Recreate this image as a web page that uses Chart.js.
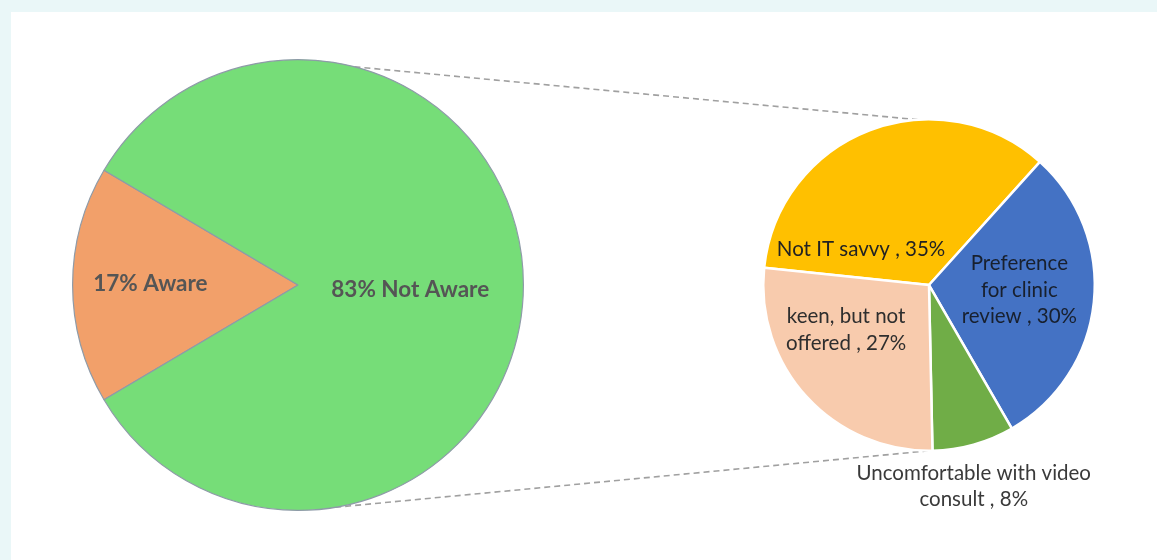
<!DOCTYPE html>
<html>
<head>
<meta charset="utf-8">
<script src="https://cdn.jsdelivr.net/npm/chart.js@4.4.1/dist/chart.umd.min.js"></script>
<style>
  html, body { margin: 0; padding: 0; background: #EAF7F8; }
  #wrap { position: relative; width: 1157px; height: 560px; background: #EAF7F8; overflow: hidden; }
  #panel { position: absolute; left: 11px; top: 12px; right: 0; bottom: 0; background: #ffffff; }
  canvas { position: absolute; }
  #c1 { left: 68px; top: 55px; }
  #c2 { left: 740px; top: 100px; }
  #ov { left: 0; top: 0; pointer-events: none; }
</style>
</head>
<body>
<div id="wrap">
  <div id="panel"></div>
  <canvas id="ov" width="1157" height="560"></canvas>
  <canvas id="c1" width="460" height="460"></canvas>
  <canvas id="c2" width="380" height="440"></canvas>
</div>
<script>
// ---- data ----
const mainCategories = ['Aware', 'Not Aware'];
const mainValues = [17, 83];
const mainLabelLines = [['17% Aware'], ['83% Not Aware']];

const subCategories = ['Not IT savvy', 'Preference for clinic review', 'Uncomfortable with video consult', 'keen, but not offered'];
const subValues = [35, 30, 8, 27];
const subLabelLines = [
  ['Not IT savvy , 35%'],
  ['Preference', 'for clinic', 'review , 30%'],
  ['Uncomfortable with video', 'consult , 8%'],
  ['keen, but not', 'offered , 27%']
];

// ---- styles ----
const mainColors = ['#F2A06A', '#76DD78'];
const subColors = ['#FFC000', '#4472C4', '#70AD47', '#F8CBAD'];
const FONT = 'Lato, "Open Sans", sans-serif';

// label placement as fraction of the radius from the pie centre (style only)
const mainLabelPos = [[-0.655, -0.005], [0.498, 0.02]];
const mainLabelColors = ['#555555', '#555555'];
const subLabelPos = [[-0.41, -0.215], [0.545, 0.03], [0.27, 1.215], [-0.50, 0.27]];
const subLabelColors = ['#222222', '#18202e', '#3a3a3a', '#2e2e2e'];

function labelPlugin(lines, pos, colors, font, lineH) {
  return {
    id: 'lbl',
    afterDatasetsDraw(chart) {
      const ctx = chart.ctx;
      const arcs = chart.getDatasetMeta(0).data;
      ctx.save();
      ctx.font = font;
      ctx.textAlign = 'center';
      ctx.textBaseline = 'middle';
      arcs.forEach((a, i) => {
        const r = a.outerRadius;
        const cx = a.x + pos[i][0] * r;
        const cy = a.y + pos[i][1] * r;
        const ls = lines[i];
        ctx.fillStyle = colors[i];
        ls.forEach((t, k) => {
          ctx.fillText(t, cx, cy + (k - (ls.length - 1) / 2) * lineH);
        });
      });
      ctx.restore();
    }
  };
}

const c1 = new Chart(document.getElementById('c1'), {
  type: 'pie',
  data: {
    labels: mainCategories,
    datasets: [{
      data: mainValues,
      backgroundColor: mainColors,
      borderColor: '#8E9BA8',
      borderWidth: 1.2
    }]
  },
  options: {
    responsive: false,
    animation: false,
    devicePixelRatio: 1,
    rotation: 239.4,
    layout: { padding: 4 },
    plugins: { legend: { display: false }, tooltip: { enabled: false } }
  },
  plugins: [labelPlugin(mainLabelLines, mainLabelPos, mainLabelColors, 'bold 22.5px ' + FONT, 26)]
});

const c2 = new Chart(document.getElementById('c2'), {
  type: 'pie',
  data: {
    labels: subCategories,
    datasets: [{
      data: subValues,
      backgroundColor: subColors,
      borderColor: '#ffffff',
      borderWidth: 2.5
    }]
  },
  options: {
    responsive: false,
    animation: false,
    devicePixelRatio: 1,
    rotation: 276,
    layout: { padding: { left: 22, right: 24, top: 18, bottom: 88 } },
    plugins: { legend: { display: false }, tooltip: { enabled: false } }
  },
  plugins: [labelPlugin(subLabelLines, subLabelPos, subLabelColors, '20.5px ' + FONT, 26.5)]
});

// connector lines between the two pies, from the chart elements' geometry
(function drawConnectors() {
  const ov = document.getElementById('ov');
  const ctx = ov.getContext('2d');
  const e1 = document.getElementById('c1'), e2 = document.getElementById('c2');
  const a1 = c1.getDatasetMeta(0).data[0];
  const a2 = c2.getDatasetMeta(0).data[0];
  const P1 = { x: e1.offsetLeft + a1.x, y: e1.offsetTop + a1.y, r: a1.outerRadius };
  const P2 = { x: e2.offsetLeft + a2.x, y: e2.offsetTop + a2.y, r: a2.outerRadius };
  const pt = (P, degFromTop) => {
    const t = (degFromTop - 90) * Math.PI / 180;
    return [P.x + Math.cos(t) * P.r, P.y + Math.sin(t) * P.r];
  };
  ctx.strokeStyle = '#A0A0A0';
  ctx.lineWidth = 1.6;
  ctx.setLineDash([6, 4]);
  const pairs = [[pt(P1, 14.5), pt(P2, -4)], [pt(P1, 170.5), pt(P2, 180)]];
  pairs.forEach(([p, q]) => {
    ctx.beginPath();
    ctx.moveTo(p[0], p[1]);
    ctx.lineTo(q[0], q[1]);
    ctx.stroke();
  });
})();
</script>
</body>
</html>
